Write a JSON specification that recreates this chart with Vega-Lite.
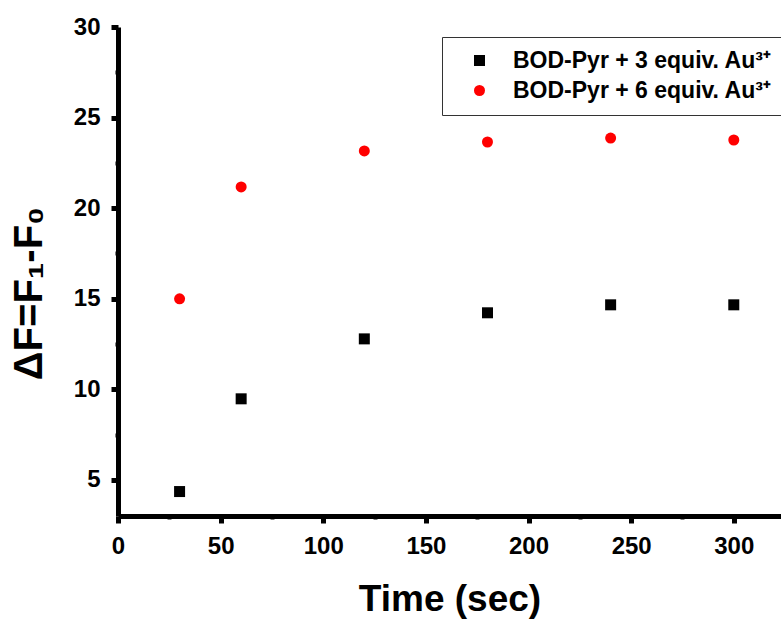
{
  "$schema": "https://vega.github.io/schema/vega-lite/v6.json",
  "width": 663,
  "height": 489,
  "autosize": {"type": "none"},
  "padding": {"left": 118, "top": 27, "right": 0, "bottom": 106},
  "config": {
    "view": {"stroke": null},
    "font": "Liberation Sans",
    "axis": {
      "grid": false,
      "domainColor": "#000000",
      "domainWidth": 5,
      "tickColor": "#000000",
      "labelColor": "#000000",
      "titleColor": "#000000",
      "labelFont": "Liberation Sans",
      "titleFont": "Liberation Sans",
      "labelFontWeight": "bold",
      "titleFontWeight": "bold"
    }
  },
  "data": {
    "values": [
      {"time": 30, "dF": 4.35, "series": "BOD-Pyr + 3 equiv. Au³⁺"},
      {"time": 60, "dF": 9.47, "series": "BOD-Pyr + 3 equiv. Au³⁺"},
      {"time": 120, "dF": 12.78, "series": "BOD-Pyr + 3 equiv. Au³⁺"},
      {"time": 180, "dF": 14.22, "series": "BOD-Pyr + 3 equiv. Au³⁺"},
      {"time": 240, "dF": 14.66, "series": "BOD-Pyr + 3 equiv. Au³⁺"},
      {"time": 300, "dF": 14.66, "series": "BOD-Pyr + 3 equiv. Au³⁺"},
      {"time": 30, "dF": 14.99, "series": " BOD-Pyr + 6 equiv. Au³⁺"},
      {"time": 60, "dF": 21.17, "series": " BOD-Pyr + 6 equiv. Au³⁺"},
      {"time": 120, "dF": 23.16, "series": " BOD-Pyr + 6 equiv. Au³⁺"},
      {"time": 180, "dF": 23.65, "series": " BOD-Pyr + 6 equiv. Au³⁺"},
      {"time": 240, "dF": 23.87, "series": " BOD-Pyr + 6 equiv. Au³⁺"},
      {"time": 300, "dF": 23.76, "series": " BOD-Pyr + 6 equiv. Au³⁺"}
    ]
  },
  "layer": [
    {
      "mark": {"type": "point", "filled": true, "size": 121, "opacity": 1},
      "encoding": {
        "x": {
          "field": "time", "type": "quantitative",
          "scale": {"domain": [0, 323], "nice": false, "zero": false},
          "axis": {
            "orient": "bottom",
            "values": [0, 50, 100, 150, 200, 250, 300],
            "title": "Time (sec)",
            "titleFontSize": 37,
            "titleY": 94,
            "titleBaseline": "alphabetic",
            "labelFontSize": 24,
            "tickSize": 7,
            "tickWidth": 5,
            "labelPadding": 11,
            "labelFlush": false,
            "labelOverlap": false
          }
        },
        "y": {
          "field": "dF", "type": "quantitative",
          "scale": {"domain": [3, 30], "nice": false, "zero": false},
          "axis": {
            "orient": "left",
            "values": [5, 10, 15, 20, 25, 30],
            "title": "ΔF=F₁-F₀",
            "titleFontSize": 40,
            "titleX": -77,
            "titleY": 266,
            "titleAngle": 270,
            "titleBaseline": "alphabetic",
            "titleAlign": "center",
            "labelFontSize": 24,
            "tickSize": 7,
            "tickWidth": 5,
            "labelPadding": 11,
            "labelFlush": false,
            "labelOverlap": false
          }
        },
        "shape": {
          "field": "series", "type": "nominal",
          "scale": {"domain": ["BOD-Pyr + 3 equiv. Au³⁺", " BOD-Pyr + 6 equiv. Au³⁺"], "range": ["square", "circle"]},
          "legend": {
            "title": null, "orient": "none", "legendX": 324, "legendY": 10,
            "strokeColor": "#333333", "fillColor": "#ffffff",
            "padding": 12, "symbolOffset": 14, "labelOffset": 22, "rowPadding": 6,
            "labelFontSize": 23, "labelFontWeight": "bold", "labelFont": "Liberation Sans", "labelColor": "#000000",
            "labelLimit": 400, "symbolSize": 121
          }
        },
        "color": {
          "field": "series", "type": "nominal",
          "scale": {"domain": ["BOD-Pyr + 3 equiv. Au³⁺", " BOD-Pyr + 6 equiv. Au³⁺"], "range": ["#000000", "#ff0000"]},
          "legend": {
            "title": null, "orient": "none", "legendX": 324, "legendY": 10,
            "strokeColor": "#333333", "fillColor": "#ffffff",
            "padding": 12, "symbolOffset": 14, "labelOffset": 22, "rowPadding": 6,
            "labelFontSize": 23, "labelFontWeight": "bold", "labelFont": "Liberation Sans", "labelColor": "#000000",
            "labelLimit": 400, "symbolSize": 121
          }
        }
      }
    },
    {
      "mark": {"type": "point", "opacity": 0},
      "encoding": {
        "x": {
          "field": "time", "type": "quantitative",
          "axis": {
            "orient": "bottom",
            "values": [25, 75, 125, 175, 225, 275],
            "labels": false, "title": null, "domain": false,
            "tickSize": 3, "tickWidth": 4
          }
        },
        "y": {
          "field": "dF", "type": "quantitative",
          "axis": {
            "orient": "left",
            "values": [7.5, 12.5, 17.5, 22.5, 27.5],
            "labels": false, "title": null, "domain": false,
            "tickSize": 3, "tickWidth": 4
          }
        }
      }
    }
  ],
  "resolve": {"axis": {"x": "independent", "y": "independent"}}
}
